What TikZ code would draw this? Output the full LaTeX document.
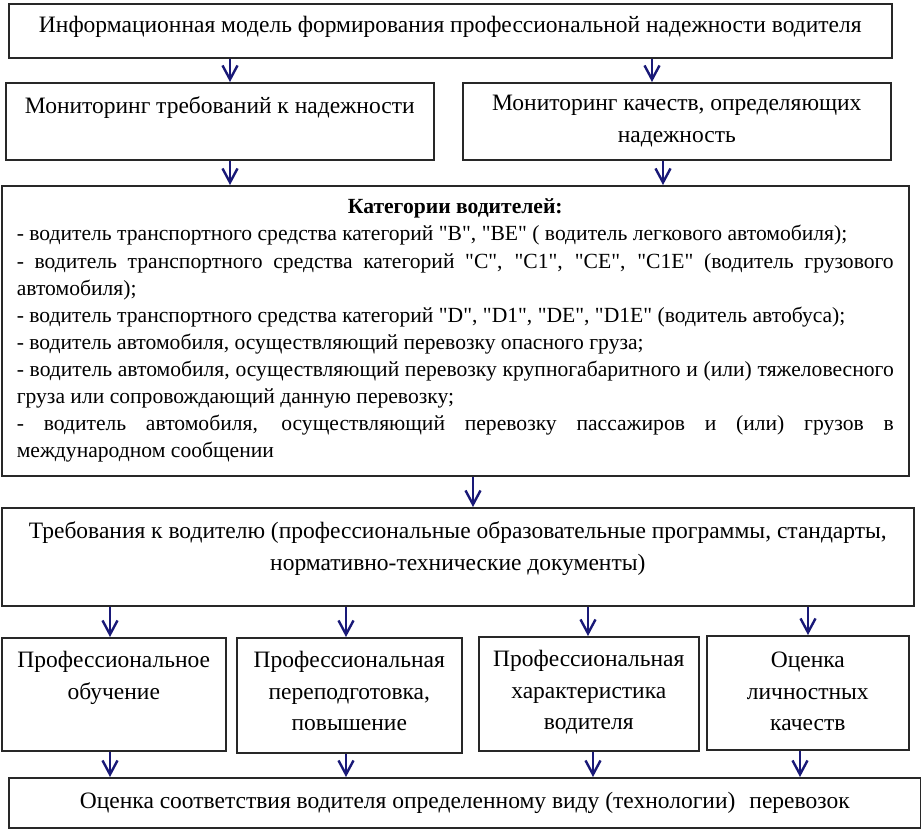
\documentclass[tikz,border=0pt]{standalone}
\usepackage{fontspec}
\setmainfont{Liberation Serif}[Ligatures=TeXOff]
\usetikzlibrary{arrows.meta}
\definecolor{navy}{RGB}{25,25,120}
\definecolor{boxline}{RGB}{40,40,40}
\newcommand{\bxt}[4]{\parbox[c][#2][t]{#1}{\centering\rule{0pt}{#3}#4}}
\tikzset{
  bx/.style={draw=boxline, line width=1.6pt, inner sep=0pt, anchor=north west,
    font=\fontsize{23.5}{31.5}\selectfont},
  arr/.style={draw=navy, line width=2.4pt, -{Straight Barb[length=14pt,width=15pt]}},
}
\begin{document}
\begin{tikzpicture}[x=1pt,y=-1pt]
\useasboundingbox (0,0) rectangle (921,828);
\fill[white] (0,0) rectangle (921,828);

\node[bx] (T) at (8,3) {\bxt{883pt}{54pt}{29pt}{Информационная модель формирования профессиональной надежности водителя}};
\node[bx] (M1) at (5,82) {\bxt{428pt}{77pt}{31pt}{Мониторинг требований к надежности}};
\node[bx] (M2) at (462,82) {\bxt{428pt}{77pt}{28pt}{Мониторинг качеств, определяющих\\надежность}};

\node[bx] (C) at (1,185) {\parbox[c][290pt][t]{907pt}{\fontsize{21.6}{27.1}\selectfont
\leftskip=15pt \rightskip=15pt \parfillskip=0pt plus 1fil \parindent=0pt
\rule{0pt}{28pt}\hfill\textbf{Категории водителей:}\hfill\null\\
- водитель транспортного средства категорий "B", "BE" ( водитель легкового автомобиля);\\
\makebox[877pt][s]{- водитель транспортного средства категорий "C", "C1", "CE", "C1E" (водитель грузового}\\
автомобиля);\\
- водитель транспортного средства категорий "D", "D1", "DE", "D1E" (водитель автобуса);\\
- водитель автомобиля, осуществляющий перевозку опасного груза;\\
\makebox[877pt][s]{- водитель автомобиля, осуществляющий перевозку крупногабаритного и (или) тяжеловесного}\\
груза или сопровождающий данную перевозку;\\
\makebox[877pt][s]{- водитель автомобиля, осуществляющий перевозку пассажиров и (или) грузов в}\\
международном сообщении}};

\node[bx] (R) at (1,507) {\bxt{912pt}{98pt}{31pt}{Требования к водителю (профессиональные образовательные программы, стандарты,\\нормативно-технические документы)}};

\node[bx] (B1) at (1,637) {\bxt{224pt}{113pt}{30pt}{Профессиональное\\обучение}};
\node[bx] (B2) at (236,637) {\bxt{225pt}{115pt}{30pt}{Профессиональная\\переподготовка,\\повышение}};
\node[bx] (B3) at (478,636) {\bxt{220pt}{114pt}{30pt}{Профессиональная\\характеристика\\водителя}};
\node[bx] (B4) at (706,635) {\bxt{202pt}{114pt}{32pt}{Оценка\\личностных\\качеств}};

\node[bx] (E) at (8,777) {\bxt{912pt}{50pt}{31pt}{Оценка соответствия водителя определенному виду (технологии)\hspace{0.35em} перевозок}};

\draw[arr] (T.south -| 230,0) -- (M1.north -| 230,0);
\draw[arr] (T.south -| 652,0) -- (M2.north -| 652,0);
\draw[arr] (M1.south -| 230,0) -- (C.north -| 230,0);
\draw[arr] (M2.south -| 663,0) -- (C.north -| 663,0);
\draw[arr] (C.south -| 473,0) -- (R.north -| 473,0);
\draw[arr] (R.south -| 110,0) -- (B1.north -| 110,0);
\draw[arr] (R.south -| 346,0) -- (B2.north -| 346,0);
\draw[arr] (R.south -| 588,0) -- (B3.north -| 588,0);
\draw[arr] (R.south -| 808,0) -- (B4.north -| 808,0);
\draw[arr] (B1.south -| 110,0) -- (E.north -| 110,0);
\draw[arr] (B2.south -| 346,0) -- (E.north -| 346,0);
\draw[arr] (B3.south -| 593,0) -- (E.north -| 593,0);
\draw[arr] (B4.south -| 800,0) -- (E.north -| 800,0);
\end{tikzpicture}
\end{document}
